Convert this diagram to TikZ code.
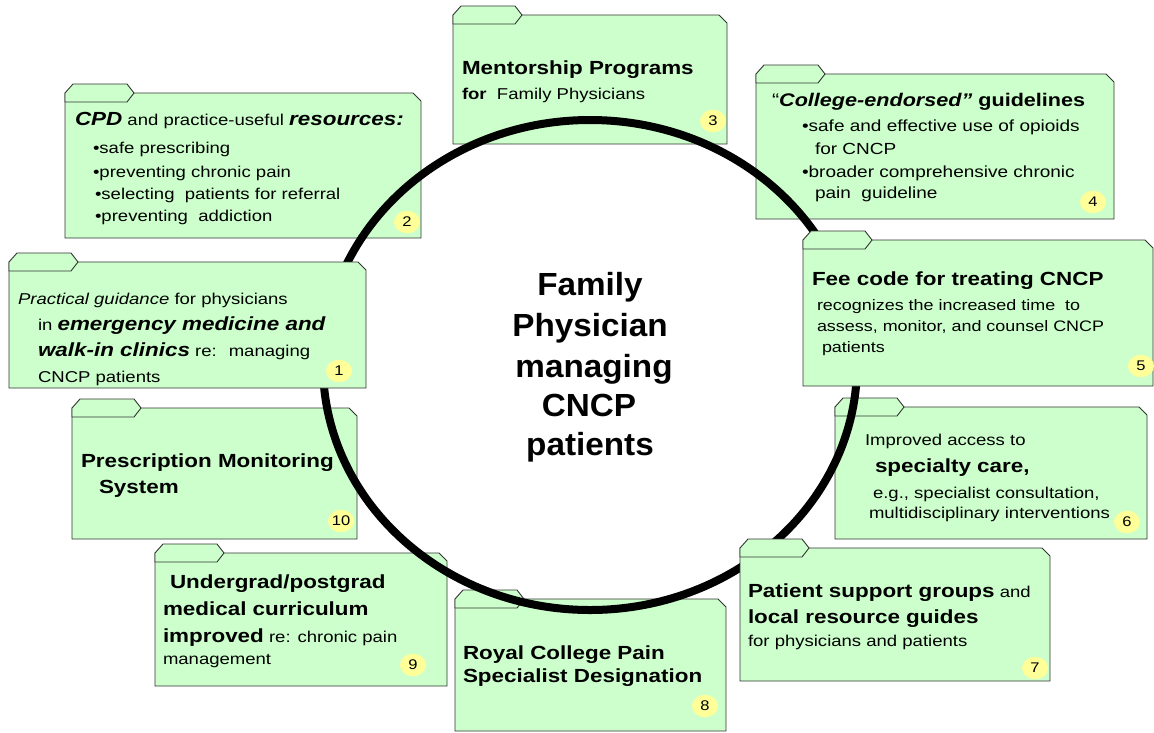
\documentclass[tikz,border=0pt]{standalone}
\usepackage{fontspec}
\setmainfont{Liberation Sans}[FakeStretch=1.18]
\newfontfamily\centerfont{Liberation Sans}[FakeStretch=1.04]
\usetikzlibrary{shapes.geometric}
\definecolor{foldergreen}{HTML}{CCFFCC}
\definecolor{numyellow}{HTML}{FFFF99}
\newcommand\mybf[1]{{\fontsize{19}{22}\selectfont\bfseries #1}}
\newcommand\mybi[1]{{\fontsize{19}{22}\selectfont\bfseries\itshape #1}}
\newcommand\myit[1]{{\itshape #1}}
\newcommand\drawfolder[4]{%
  \draw[folderline] (#1,#2) -- (#3-8,#2) -- (#3,#2+8) -- (#3,#4) -- (#1,#4) -- cycle;
  \draw[folderline] (#1,#2) -- (#1+8,#2-9) -- (#1+62,#2-9) -- (#1+69,#2) -- (#1+62,#2+9) -- (#1,#2+9) -- cycle;}
\begin{document}
\begin{tikzpicture}[x=1pt,y=-1pt,
  folderline/.style={draw=black!80, line width=0.9pt, fill=foldergreen},
  txt/.style={anchor=base west, inner sep=0pt, outer sep=0pt, font=\fontsize{15.7}{19}\selectfont},
  num/.style={ellipse, fill=numyellow, minimum width=26pt, minimum height=22.5pt, inner sep=0pt, font=\fontsize{14}{16}\selectfont},
  hubtxt/.style={anchor=base, inner sep=0pt, outer sep=0pt, font=\centerfont\bfseries\fontsize{32}{40}\selectfont},
  ring/.style={draw=black, line width=8pt}]
\useasboundingbox[fill=white] (0,0) rectangle (1154,732);

% ---------- folders below the ring ----------
% 2
\drawfolder{65}{93}{421}{238}
\node[txt] (n2a) at (75,125) {\mybi{CPD} and practice-useful \mybi{resources:}};
\node[txt] (n2b) at (93,153) {•safe prescribing};
\node[txt] (n2c) at (93,177) {•preventing chronic pain};
\node[txt] (n2d) at (95,199) {•selecting~ patients for referral};
\node[txt] (n2e) at (95,221) {•preventing~ addiction};
\node[num] (k2) at (407,222) {2};
% 3
\drawfolder{453}{15}{727}{144}
\node[txt] (n3a) at (462,74) {\mybf{Mentorship Programs}};
\node[txt] (n3b) at (462,99) {\textbf{for}~ Family Physicians};
\node[num] (k3) at (713,121) {3};
% 4
\drawfolder{756}{74}{1114}{219}
\node[txt, font=\fontsize{18.3}{22}\selectfont] (n4a) at (772,106) {“{\bfseries\itshape College-endorsed”} {\bfseries guidelines}};
\node[txt, font=\fontsize{16.1}{19}\selectfont] (n4b) at (802,131) {•safe and effective use of opioids};
\node[txt, font=\fontsize{16.1}{19}\selectfont] (n4c) at (815,154) {for CNCP};
\node[txt, font=\fontsize{16.1}{19}\selectfont] (n4d) at (802,177) {•broader comprehensive chronic};
\node[txt, font=\fontsize{16.1}{19}\selectfont] (n4e) at (815,198) {pain~ guideline};
\node[num] (k4) at (1093,202) {4};
% 6
\drawfolder{835}{407}{1147}{539}
\node[txt] (n6a) at (865,445) {Improved access to};
\node[txt] (n6b) at (875,472) {\mybf{specialty care,}};
\node[txt] (n6c) at (873,498) {e.g., specialist consultation,};
\node[txt] (n6d) at (869,518) {multidisciplinary interventions};
\node[num] (k6) at (1127,522) {6};
% 8
\drawfolder{455}{599}{726}{731}
\node[txt] (n8a) at (463,659) {\mybf{Royal College Pain}};
\node[txt] (n8b) at (463,682) {\mybf{Specialist Designation}};
\node[num] (k8) at (705,706) {8};
% 9
\drawfolder{155}{553}{447}{686}
\node[txt] (n9a) at (170,588) {\mybf{Undergrad/postgrad}};
\node[txt] (n9b) at (163,615) {\mybf{medical curriculum}};
\node[txt] (n9c) at (163,642) {\mybf{improved} re: chronic pain};
\node[txt] (n9d) at (163,664) {management};
\node[num] (k9) at (413,665) {9};
% 10
\drawfolder{72}{408}{357}{539}
\node[txt] (n10a) at (81,467) {\mybf{Prescription Monitoring}};
\node[txt] (n10b) at (99,493) {\mybf{System}};
\node[num] (k10) at (341,521) {10};

% ---------- the ring ----------
\draw[ring] (590,365) ellipse [x radius=267, y radius=245];
\node[hubtxt] (hub1) at (590,295) {Family};
\node[hubtxt] (hub2) at (590,336) {Physician};
\node[hubtxt] (hub3) at (594,377) {managing};
\node[hubtxt] (hub4) at (589,416) {CNCP};
\node[hubtxt] (hub5) at (590,455) {patients};

% ---------- folders above the ring ----------
% 1
\drawfolder{9}{262}{366}{388}
\node[txt] (n1a) at (18,304) {\myit{Practical guidance} for physicians};
\node[txt] (n1b) at (38,330) {in \mybi{emergency medicine and}};
\node[txt] (n1c) at (38,356) {\mybi{walk-in clinics} re:~ managing};
\node[txt] (n1d) at (38,382) {CNCP patients};
\node[num] (k1) at (339,371) {1};
% 5
\drawfolder{803}{240}{1153}{386}
\node[txt] (n5a) at (812,285) {\mybf{Fee code for treating CNCP}};
\node[txt, font=\fontsize{15.2}{19}\selectfont] (n5b) at (817,310) {recognizes the increased time~ to};
\node[txt, font=\fontsize{15.2}{19}\selectfont] (n5c) at (817,331) {assess, monitor, and counsel CNCP};
\node[txt, font=\fontsize{15.2}{19}\selectfont] (n5d) at (822,352) {patients};
\node[num] (k5) at (1141,366) {5};
% 7
\drawfolder{740}{548}{1050}{681}
\node[txt] (n7a) at (748,597) {\mybf{Patient support groups} and};
\node[txt] (n7b) at (748,623) {\mybf{local resource guides}};
\node[txt] (n7c) at (748,646) {for physicians and patients};
\node[num] (k7) at (1035,668) {7};
\end{tikzpicture}
\end{document}
